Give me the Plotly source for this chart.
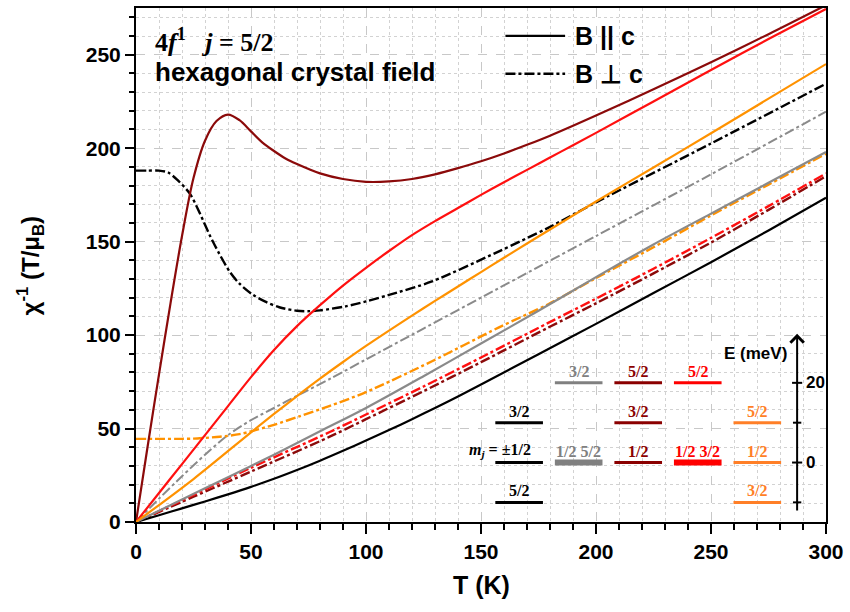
import plotly.graph_objects as go

# ---------------- inverse susceptibility chi^-1(T) ----------------
# B || c  (solid lines)
T_black_par = [0, 10, 20, 30, 40, 50, 60, 70, 80, 90, 100, 110, 120, 130, 140, 150, 175, 200, 225, 250,
               275, 300]
chi_black_par = [0, 3.6, 7.3, 11, 14.8, 18.8, 23.1, 27.8, 32.8, 38.1, 43.6, 49.2, 55, 61, 67.2, 73.6, 89.8,
                 106, 122.5, 139, 156, 173.5]

T_gray_par = [0, 20, 40, 60, 80, 100, 125, 150, 175, 200, 225, 250, 275, 300]
chi_gray_par = [0, 12, 24, 36, 48.5, 61, 78, 95.5, 113, 131, 148.5, 165, 181.5, 198]

T_maroon_par = [0, 5, 10, 15, 20, 25, 30, 35, 40, 45, 50, 55, 60, 65, 70, 80, 90, 100, 110, 120, 130,
                140, 150, 160, 170, 180, 190, 200, 225, 250, 275, 300]
chi_maroon_par = [0, 40, 79, 117, 153, 184, 204, 214.5, 218, 215, 209, 203, 198.5, 194.5, 191.5, 186.5,
                  183.5, 182, 182.2, 183.5, 186, 189.3, 193, 197.2, 201.8, 206.7, 212, 217.5, 231.5,
                  246, 261, 276.5]

T_red_par = [0, 10, 20, 30, 40, 50, 60, 70, 80, 90, 100, 110, 120, 130, 140, 150, 160, 170, 180, 190,
             200, 225, 250, 275, 300]
chi_red_par = [0, 15.5, 31, 46.5, 62, 77.5, 92, 104.8, 116, 126.5, 136, 145, 153.5, 161, 168, 175, 181.8,
               188.4, 195, 201.6, 208.2, 225, 241.8, 258.4, 274.5]

T_orange_par = [0, 25, 50, 60, 70, 80, 90, 100, 110, 120, 130, 140, 150, 160, 170, 180, 190, 200, 225,
                250, 275, 300]
chi_orange_par = [0, 23, 48, 57.8, 67.4, 76.7, 85.6, 94.2, 102.4, 110.4, 118.3, 126, 133.7, 141.4, 149,
                  156.5, 164, 171.5, 189.7, 208, 226.5, 245]

# B perpendicular to c  (dash-dot lines)
T_black_perp = [0, 5, 10, 14, 18, 23.4, 28, 32, 36, 40.7, 45, 50.8, 56, 62.3, 70, 75.3, 80, 91.2, 100, 110,
                128.7, 157.6, 179.2, 200, 250, 300]
chi_black_perp = [188, 188, 188, 187, 183, 175.7, 164.5, 153.6, 144, 134, 127.5, 121.6, 118, 114.9, 113,
                  112.8, 113.2, 115.4, 118, 121.5, 128.7, 144.7, 157.4, 171, 202.5, 234.5]

T_gray_perp = [0, 10, 20, 30, 40, 50, 60, 70, 85, 100, 125, 150, 175, 200, 250, 300]
chi_gray_perp = [0, 12.5, 24.5, 36, 46.5, 54.5, 61, 67.5, 77, 87, 103.5, 120, 136.5, 153, 186, 219.5]

T_maroon_perp = [0, 25, 50, 84, 100, 125, 150, 179.2, 200, 225, 250, 275, 300]
chi_maroon_perp = [0, 13.5, 27, 45.5, 55, 70, 85.5, 104, 117, 133, 149.5, 167, 185]

T_red_perp = [0, 25, 50, 84, 100, 125, 150, 179.2, 200, 225, 250, 275, 300]
chi_red_perp = [0, 14.5, 29, 48, 57.5, 72.5, 88, 106.5, 119.5, 135.5, 152, 169, 186.5]

T_orange_perp = [0, 10, 20, 25, 30, 36.4, 45, 50, 60, 71, 84, 100, 128.7, 157.6, 179.2, 200, 225, 250, 275, 300]
chi_orange_perp = [44.5, 44.5, 44.5, 44.6, 45, 45.6, 47, 48.5, 52, 56.5, 62, 69.5, 86, 104, 116.5, 130.5,
                   147, 164, 180.5, 197]

# ---------------- crystal-field level schemes (inset) ----------------
scheme_colors = ["#000000", "#808080", "#8B0000", "#FF0000", "#FF7F27"]
level_column = [0, 0, 0, 1, 1, 2, 2, 2, 3, 3, 4, 4, 4]
level_energy = [10, 0, -10, 20, 0, 20, 10, 0, 20, 0, 10, 0, -10]
level_label = ["3/2", "±1/2", "5/2", "3/2", "1/2 5/2", "5/2", "3/2", "1/2", "5/2", "1/2 3/2", "5/2", "1/2", "3/2"]
level_doublet_pair = [False, False, False, False, True, False, False, False, False, True, False, False, False]
E_ticks_major = [0, 20]
E_ticks_minor = [-10, 10]

curve_colors = {"black": "#000000", "gray": "#8A8A8A", "maroon": "#8B0A0A", "red": "#FF1010",
                "orange": "#FF9200"}

SANS = "Liberation Sans, Arial, sans-serif"
SERIF = "Liberation Serif, Times New Roman, serif"
DASHDOT = "10px,3px,3px,3px"

fig = go.Figure()

parallel = [
    ("black", T_black_par, chi_black_par),
    ("gray", T_gray_par, chi_gray_par),
    ("maroon", T_maroon_par, chi_maroon_par),
    ("red", T_red_par, chi_red_par),
    ("orange", T_orange_par, chi_orange_par),
]
perpendicular = [
    ("black", T_black_perp, chi_black_perp),
    ("gray", T_gray_perp, chi_gray_perp),
    ("maroon", T_maroon_perp, chi_maroon_perp),
    ("red", T_red_perp, chi_red_perp),
    ("orange", T_orange_perp, chi_orange_perp),
]

for name, T, chi in perpendicular:
    fig.add_trace(go.Scatter(
        x=T, y=chi, mode="lines", showlegend=False, hoverinfo="skip",
        line=dict(color=curve_colors[name], width=2.4 if name != "gray" else 2.0,
                  dash=DASHDOT, shape="spline", smoothing=0.8)))
for name, T, chi in parallel:
    fig.add_trace(go.Scatter(
        x=T, y=chi, mode="lines", showlegend=False, hoverinfo="skip",
        line=dict(color=curve_colors[name], width=2.2, shape="spline", smoothing=0.9)))

# ---- inset: level schemes on their own overlay axes (u = scheme column, E in meV) ----
half = 0.40
for col, E, thick in zip(level_column, level_energy, level_doublet_pair):
    fig.add_trace(go.Scatter(
        x=[col - half, col + half], y=[E, E], xaxis="x2", yaxis="y2", mode="lines",
        showlegend=False, hoverinfo="skip",
        line=dict(color=scheme_colors[col], width=6 if thick else 3)))

E_axis_u = 4.669
tick_x, tick_y = [], []
for E in E_ticks_major:
    tick_x += [E_axis_u - 0.085, E_axis_u + 0.085, None]
    tick_y += [E, E, None]
for E in E_ticks_minor:
    tick_x += [E_axis_u - 0.07, E_axis_u + 0.07, None]
    tick_y += [E, E, None]
fig.add_trace(go.Scatter(x=tick_x, y=tick_y, xaxis="x2", yaxis="y2", mode="lines",
                         showlegend=False, hoverinfo="skip", line=dict(color="black", width=2)))

annotations = []
for col, E, lab in zip(level_column, level_energy, level_label):
    if lab == "±1/2":
        annotations.append(dict(
            x=col + 0.23, y=E, xref="x2", yref="y2", xanchor="right", yanchor="bottom", yshift=1,
            text="<b><i>m</i><sub><i>j</i></sub> = ±1/2</b>", showarrow=False,
            font=dict(family=SERIF, size=16, color=scheme_colors[col])))
    else:
        annotations.append(dict(
            x=col, y=E, xref="x2", yref="y2", xanchor="center", yanchor="bottom", yshift=1,
            text="<b>%s</b>" % lab, showarrow=False,
            font=dict(family=SERIF, size=16, color=scheme_colors[col])))

for E in E_ticks_major:
    annotations.append(dict(x=E_axis_u + 0.12, y=E, xref="x2", yref="y2", xanchor="left",
                            yanchor="middle", text="<b>%d</b>" % E, showarrow=False,
                            font=dict(family=SANS, size=17, color="black")))
annotations.append(dict(x=E_axis_u - 0.13, y=27.3, xref="x2", yref="y2", xanchor="right",
                        yanchor="middle", text="<b>E (meV)</b>", showarrow=False,
                        font=dict(family=SANS, size=17, color="black")))
# energy axis arrow
annotations.append(dict(x=E_axis_u, y=32.3, ax=E_axis_u, ay=-12.4, xref="x2", yref="y2",
                        axref="x2", ayref="y2", text="", showarrow=True, arrowhead=4,
                        arrowsize=1.3, arrowwidth=2, arrowcolor="black"))

# ---- headings ----
annotations.append(dict(x=0.025, y=0.936, xref="paper", yref="paper", xanchor="left", yanchor="middle",
                        text="<b>4<i>f</i><sup>1</sup>   <i>j</i> = 5/2</b>", showarrow=False,
                        font=dict(family=SERIF, size=26, color="black")))
annotations.append(dict(x=0.025, y=0.876, xref="paper", yref="paper", xanchor="left", yanchor="middle",
                        text="<b>hexagonal crystal field</b>", showarrow=False,
                        font=dict(family=SANS, size=26, color="black")))

# ---- field-direction key ----
key_x0, key_x1 = 0.5354, 0.6219
key_rows = [(0.9457, "solid", "B || c"), (0.8721, DASHDOT, "B ⊥ c")]
shapes = []
for y, dash, lab in key_rows:
    shapes.append(dict(type="line", xref="paper", yref="paper", x0=key_x0, x1=key_x1, y0=y, y1=y,
                       line=dict(color="black", width=2.4, dash=dash)))
    annotations.append(dict(x=0.633, y=y, xref="paper", yref="paper", xanchor="left", yanchor="middle",
                            text="<b>%s</b>" % lab, showarrow=False,
                            font=dict(family=SANS, size=25, color="black")))

# ---- axis titles ----
annotations.append(dict(x=-0.153, y=0.5, xref="paper", yref="paper", xanchor="center", yanchor="middle",
                        textangle=-90, text="<b>χ<sup>-1</sup> (T/μ<sub>B</sub>)</b>", showarrow=False,
                        font=dict(family=SANS, size=24, color="black")))
annotations.append(dict(x=0.5, y=-0.122, xref="paper", yref="paper", xanchor="center", yanchor="middle",
                        text="<b>T (K)</b>", showarrow=False,
                        font=dict(family=SANS, size=25, color="black")))

axis_common = dict(
    showline=True, linecolor="black", linewidth=2, mirror=True,
    ticks="outside", tickwidth=2, tickcolor="black",
    showgrid=True, gridcolor="#C8C8C8", griddash="dash", gridwidth=1,
    zeroline=False,
    tickfont=dict(family=SANS, size=21, color="black", weight="bold"),
)

fig.update_layout(
    width=850, height=612,
    margin=dict(l=136, r=21, t=6, b=90),
    paper_bgcolor="white", plot_bgcolor="white",
    showlegend=False,
    xaxis=dict(range=[0, 300], dtick=50, tick0=0, ticklen=10,
               minor=dict(dtick=10, ticks="outside", ticklen=6, tickwidth=1.5, tickcolor="black",
                          showgrid=True, gridcolor="#D2D2D2", griddash="dot", gridwidth=1),
               **axis_common),
    yaxis=dict(range=[0, 275], dtick=50, tick0=0, ticklen=9,
               minor=dict(dtick=10, ticks="outside", ticklen=5, tickwidth=1.5, tickcolor="black",
                          showgrid=True, gridcolor="#D2D2D2", griddash="dot", gridwidth=1),
               **axis_common),
    xaxis2=dict(overlaying="x", anchor="y2", range=[-6.435, 5.154], visible=False, showgrid=False),
    yaxis2=dict(overlaying="y", anchor="x2", range=[-14.925, 114.075], visible=False, showgrid=False),
    annotations=annotations,
    shapes=shapes,
)

fig.write_html("out.html")
